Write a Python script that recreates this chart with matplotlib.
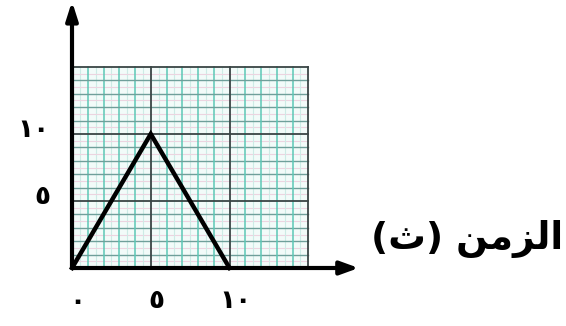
import numpy as np
import matplotlib.pyplot as plt

# Werte des Dreiecks (Zeit, Geschwindigkeit)
zeit = [0, 5, 10]
wert = [0, 10, 0]

x_ticks = [0, 5, 10]
x_tick_labels = ["٠", "٥", "١٠"]
y_ticks = [5, 10]
y_tick_labels = ["٥", "١٠"]

# Achsentitel: Präsentationsformen, von links nach rechts gespeichert
x_titel = "(\uFE99) \uFEE6\uFEE3\uFEB0\uFEDF\uFE8D"

W, H = 566, 326
px_x = 15.75   # Pixel pro Einheit, horizontal
px_y = 13.4    # Pixel pro Einheit, vertikal
x0, y0 = 72, 268

fig = plt.figure(figsize=(W / 100, H / 100), dpi=100)
ax = fig.add_axes([0, 0, 1, 1])
ax.set_xlim(-x0 / px_x, (W - x0) / px_x)
ax.set_ylim(-(H - y0) / px_y, y0 / px_y)
ax.axis("off")

# Millimeterpapier
gmax = 15
ax.fill_between([0, gmax], 0, gmax, color="#f2fbf9", zorder=0)
for v in np.arange(0.5, gmax, 1.0):
    ax.plot([v, v], [0, gmax], color="#cdebe6", lw=0.8, zorder=1)
    ax.plot([0, gmax], [v, v], color="#ecd4e0", lw=0.8, zorder=1)
for v in range(1, gmax):
    if v % 5:
        ax.plot([v, v], [0, gmax], color="#5cc8b6", lw=1.1, zorder=2)
        ax.plot([0, gmax], [v, v], color="#6f9f9a", lw=1.0, zorder=2)
for v in (5, 10, 15):
    ax.plot([v, v], [0, gmax], color="#3a4545", lw=1.3, zorder=3)
    ax.plot([0, gmax], [v, v], color="#3a4545", lw=1.3, zorder=3)

# Achsen mit Pfeilen
ax.annotate("", xy=(18.2, 0), xytext=(0, 0),
            arrowprops=dict(arrowstyle="-|>,head_length=1.1,head_width=0.4",
                            color="black", lw=3, shrinkA=0, shrinkB=0), zorder=5)
ax.annotate("", xy=(0, 19.9), xytext=(0, 0),
            arrowprops=dict(arrowstyle="-|>,head_length=1.1,head_width=0.35",
                            color="black", lw=3, shrinkA=0, shrinkB=0), zorder=5)

# Dreieck
ax.plot(zeit, wert, color="black", lw=3.2, solid_joinstyle="miter", zorder=6)

fnt = dict(family="DejaVu Sans", fontweight="bold", color="black")
for t, lab in zip(x_ticks, x_tick_labels):
    ax.text(t + 0.35, -2.5, lab, fontsize=19, ha="center", va="center", **fnt)
for t, lab in zip(y_ticks, y_tick_labels):
    ax.text(-1.4, t + 0.3, lab, fontsize=19, ha="right", va="center", **fnt)

ax.text(19.0, 2.2, x_titel, fontsize=27, ha="left", va="center", **fnt)

fig.savefig("out.png", dpi=100)
